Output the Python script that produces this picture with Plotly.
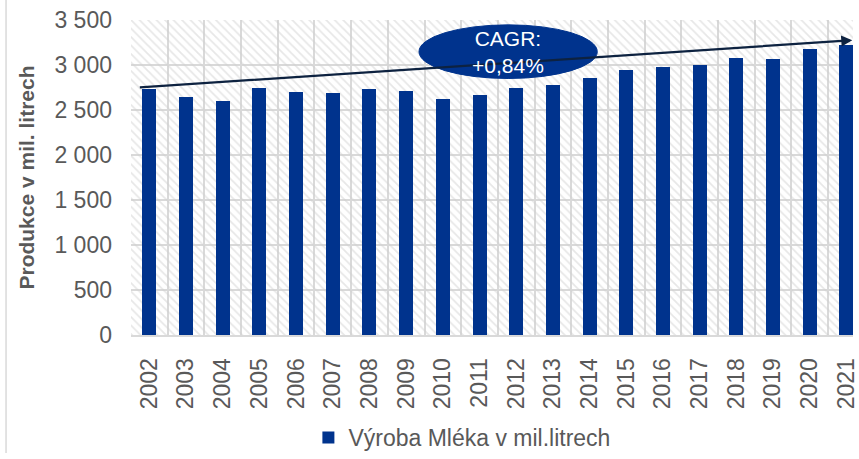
import plotly.graph_objects as go

years = [str(y) for y in range(2002, 2022)]
production = [2730, 2645, 2600, 2740, 2700, 2688, 2730, 2710, 2623, 2667,
              2742, 2775, 2851, 2945, 2981, 2995, 3075, 3071, 3180, 3223]
y_tick_vals = [0, 500, 1000, 1500, 2000, 2500, 3000, 3500]
y_tick_text = ["0", "500", "1 000", "1 500", "2 000", "2 500", "3 000", "3 500"]
trend_start = 2750
trend_end = 3275
series_name = "Výroba Mléka v mil.litrech"
cagr_text = "CAGR:<br>+0,84%"

W, H = 859, 459
L, R, T, B = 131, 0, 20, 116
x_range = [-0.5, 19.18]
y_max = 3500

font_family = "Liberation Sans, Arial, sans-serif"
grey = "#595959"
grid = "#d9d9d9"
blue = "#00338D"

fig = go.Figure()

# hatched plot-area background
fig.add_trace(go.Bar(
    x=years, y=[y_max] * len(years), width=1.0,
    marker=dict(color="rgba(0,0,0,0)", line=dict(width=0),
                pattern=dict(shape="\\", fgcolor="#d0d0d0", bgcolor="rgba(0,0,0,0)",
                             size=6, solidity=0.3, fillmode="overlay")),
    showlegend=False, hoverinfo="skip",
))

fig.add_trace(go.Bar(
    x=years, y=production, width=0.38, name=series_name,
    marker=dict(color=blue, line=dict(width=0)),
))

# trend line with arrow
fig.add_annotation(
    x=x_range[1] - 0.02, y=trend_end, ax=-0.3, ay=trend_start,
    xref="x", yref="y", axref="x", ayref="y",
    showarrow=True, arrowhead=2, arrowsize=1, arrowwidth=2.2,
    arrowcolor="#0d2240", text="",
)

# CAGR ellipse
cx, cy = 9.78, 3150
fig.add_shape(type="circle", xref="x", yref="y",
              x0=cx - 2.43, x1=cx + 2.43, y0=2850, y1=3446,
              fillcolor=blue, line=dict(color=blue, width=1), layer="above")
fig.add_annotation(x=cx, y=cy, xref="x", yref="y", text=cagr_text,
                   showarrow=False, font=dict(color="white", size=21, family=font_family),
                   align="center")

# chart border (left edge)
fig.add_shape(type="line", xref="paper", yref="paper",
              x0=-(L - 5) / (W - L - R), x1=-(L - 5) / (W - L - R),
              y0=-(B + 5) / (H - T - B), y1=1 + T / (H - T - B) + 0.05,
              line=dict(color="#d9d9d9", width=1.5))

fig.update_layout(
    width=W, height=H,
    margin=dict(l=L, r=R, t=T, b=B, pad=0),
    paper_bgcolor="white", plot_bgcolor="white",
    barmode="overlay", bargap=0,
    font=dict(family=font_family, color=grey, size=23),
    showlegend=True,
    legend=dict(orientation="h", x=0.459, y=-0.326, xanchor="center", yanchor="middle",
                font=dict(size=23, color=grey), itemsizing="constant"),
)
fig.update_xaxes(
    type="category", range=x_range, tickson="boundaries",
    showgrid=True, gridcolor=grid, gridwidth=2,
    showline=True, linecolor=grid, linewidth=2,
    ticks="", tickangle=-90, tickfont=dict(size=23, color=grey),
    ticklabelstandoff=12,
)
fig.update_yaxes(
    range=[0, y_max], tickvals=y_tick_vals, ticktext=y_tick_text,
    showgrid=True, gridcolor=grid, gridwidth=2, zeroline=False,
    ticks="", tickfont=dict(size=23, color=grey), ticklabelstandoff=18,
    title=dict(text="<b>Produkce v mil. litrech</b>", font=dict(size=21, color=grey), standoff=14),
)

fig.write_html("out.html", config={"displayModeBar": False},
               post_script="document.body.style.margin='0';")
